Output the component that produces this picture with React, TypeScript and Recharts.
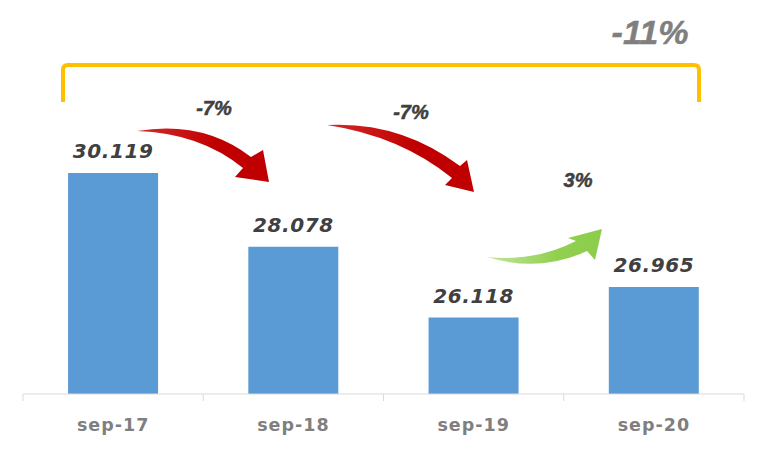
import React from 'react';
import { BarChart, Bar, XAxis, YAxis, LabelList } from 'recharts';

const categories = ['sep-17', 'sep-18', 'sep-19', 'sep-20'];
const values = [30.119, 28.078, 26.118, 26.965];
const stepChanges = ['-7%', '-7%', '3%'];
const totalChange = '-11%';

const data = categories.map((name, i) => ({ name, value: values[i] }));

const W = 768;
const H = 451;
const M = { top: 33, right: 24, left: 23, bottom: 0 };
const BAND = (W - M.left - M.right) / categories.length;

const valueFont = '"DejaVu Sans", Verdana, sans-serif';
const noteFont = '"Liberation Sans", Arial, sans-serif';

const CategoryTick = (props: any) => {
  const { x, y, payload, index } = props;
  return (
    <g>
      <line x1={x - BAND / 2} y1={y} x2={x - BAND / 2} y2={y + 7} stroke="#d9d9d9" />
      {index === categories.length - 1 && (
        <line x1={x + BAND / 2} y1={y} x2={x + BAND / 2} y2={y + 7} stroke="#d9d9d9" />
      )}
      <text
        x={x}
        y={y + 37}
        textAnchor="middle"
        fill="#7f7f7f"
        fontFamily={valueFont}
        fontWeight="bold"
        fontSize={17.5}
        letterSpacing={1}
      >
        {payload.value}
      </text>
    </g>
  );
};

const Note = ({ x, y, size, fill, children }: any) => (
  <text
    x={x}
    y={y}
    textAnchor="middle"
    fill={fill}
    fontFamily={noteFont}
    fontWeight={900}
    fontStyle="italic"
    fontSize={size}
    stroke={fill}
    strokeWidth={0.5}
  >
    {children}
  </text>
);

const Annotations = () => (
  <svg
    width={W}
    height={H}
    style={{ position: 'absolute', left: 0, top: 0, pointerEvents: 'none' }}
  >
    <defs>
      <linearGradient id="redArrow" x1="0" y1="0" x2="1" y2="0">
        <stop offset="0%" stopColor="#d42a2a" />
        <stop offset="60%" stopColor="#c00000" />
        <stop offset="100%" stopColor="#c00000" />
      </linearGradient>
      <linearGradient id="greenArrow" x1="0" y1="0" x2="1" y2="0">
        <stop offset="0%" stopColor="#c4e59c" />
        <stop offset="60%" stopColor="#92d050" />
        <stop offset="100%" stopColor="#8ccd4b" />
      </linearGradient>
    </defs>

    {/* bracket over the whole period */}
    <path
      d="M63,102 L63,70 Q63,65 68,65 L694,65 Q699,65 699,70 L699,102"
      fill="none"
      stroke="#ffc000"
      strokeWidth={4}
    />
    <Note x={650} y={44} size={34} fill="#7f7f7f">{totalChange}</Note>

    {/* year over year arrows */}
    <path
      d="M137,131 Q203,120 251,157 L263,150 L269,182 L235,177 L243,168 Q200,133 137,131 Z"
      fill="url(#redArrow)"
    />
    <path
      d="M327,125 Q400,121 460,166 L467,160 L474,192 L445,185 L452,178 Q400,136 327,125 Z"
      fill="url(#redArrow)"
    />
    <path
      d="M487,257 Q540,273 587,251 L595,260 L602,229 L568,238 L576,241 Q535,262 487,257 Z"
      fill="url(#greenArrow)"
    />

    <Note x={214} y={115} size={20} fill="#404040">{stepChanges[0]}</Note>
    <Note x={411} y={119} size={20} fill="#404040">{stepChanges[1]}</Note>
    <Note x={578} y={187} size={20} fill="#404040">{stepChanges[2]}</Note>
  </svg>
);

export default function App() {
  return (
    <div style={{ position: 'absolute', left: 0, top: 0, width: W, height: H, background: '#ffffff' }}>
      <BarChart width={W} height={H} data={data} margin={M} barCategoryGap="25%">
        <XAxis
          dataKey="name"
          height={57}
          stroke="#d9d9d9"
          tickLine={false}
          tickSize={0}
          tickMargin={0}
          interval={0}
          tick={<CategoryTick />}
        />
        <YAxis hide domain={[24, 34]} allowDataOverflow />
        <Bar dataKey="value" fill="#5b9bd5" isAnimationActive={false}>
          <LabelList
            dataKey="value"
            position="top"
            offset={15}
            formatter={(v: any) => Number(v).toFixed(3)}
            fill="#404040"
            fontFamily={valueFont}
            fontWeight="bold"
            fontStyle="italic"
            fontSize={20}
            letterSpacing={0.6}
          />
        </Bar>
      </BarChart>
      <Annotations />
    </div>
  );
}
